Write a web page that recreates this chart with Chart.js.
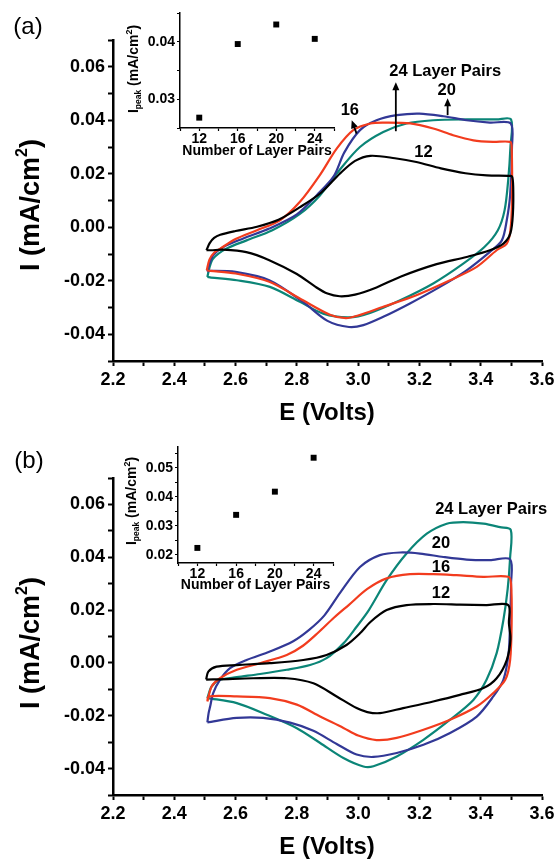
<!DOCTYPE html>
<html>
<head>
<meta charset="utf-8">
<script src="https://cdn.jsdelivr.net/npm/chart.js@4.4.1/dist/chart.umd.min.js"></script>
<style>
  body { margin: 0; background: #fff; }
  #fig { position: relative; width: 557px; height: 862px; overflow: hidden; }
  #fig canvas { position: absolute; left: 0; top: 0; }
</style>
</head>
<body>
<div id="fig">
  <canvas id="cvA" width="557" height="862"></canvas>
  <canvas id="cvB" width="557" height="862"></canvas>
  <canvas id="insA" width="557" height="862"></canvas>
  <canvas id="insB" width="557" height="862"></canvas>
</div>
<script>
/* CV loops, panel (a): potential (V) and current (mA/cm2), one closed scan each */
const eA12 = [2.505, 2.515, 2.53, 2.55, 2.60, 2.67, 2.74, 2.81, 2.88, 2.94, 2.99, 3.04, 3.12, 3.19, 3.27, 3.35, 3.42, 3.49, 3.502, 3.506, 3.505, 3.497, 3.475, 3.43, 3.354, 3.256, 3.14, 3.06, 2.99, 2.94, 2.90, 2.86, 2.80, 2.71, 2.635, 2.56, 2.52, 2.505];
const iA12 = [-0.0086, -0.0060, -0.0040, -0.0028, -0.0014, 0.0002, 0.0028, 0.0075, 0.0130, 0.0200, 0.0248, 0.0267, 0.0258, 0.0244, 0.0220, 0.0202, 0.0194, 0.0192, 0.0190, 0.0150, 0.0050, -0.0022, -0.0060, -0.0086, -0.0111, -0.0138, -0.0184, -0.0225, -0.0252, -0.0258, -0.0248, -0.0222, -0.0175, -0.0123, -0.0093, -0.0084, -0.0086, -0.0086];
const eA16 = [2.506, 2.515, 2.53, 2.55, 2.60, 2.67, 2.745, 2.81, 2.875, 2.93, 2.984, 3.04, 3.09, 3.17, 3.245, 3.31, 3.376, 3.44, 3.496, 3.501, 3.502, 3.497, 3.485, 3.452, 3.387, 3.30, 3.19, 3.08, 3.00, 2.96, 2.91, 2.82, 2.71, 2.60, 2.517, 2.506];
const iA16 = [-0.0161, -0.0120, -0.0095, -0.0080, -0.0044, -0.0011, 0.0026, 0.0095, 0.0195, 0.0294, 0.0363, 0.0388, 0.0391, 0.0388, 0.0369, 0.0344, 0.0325, 0.0319, 0.0319, 0.0300, 0.0100, -0.0011, -0.0061, -0.0086, -0.0148, -0.0198, -0.0254, -0.0298, -0.0330, -0.0340, -0.0328, -0.0273, -0.0204, -0.0173, -0.0163, -0.0161];
const eA20 = [2.508, 2.515, 2.527, 2.56, 2.625, 2.71, 2.80, 2.865, 2.92, 2.955, 3.006, 3.06, 3.126, 3.20, 3.278, 3.354, 3.43, 3.498, 3.502, 3.496, 3.485, 3.469, 3.43, 3.354, 3.267, 3.169, 3.082, 3.017, 2.97, 2.90, 2.82, 2.71, 2.60, 2.517, 2.508];
const iA20 = [-0.0165, -0.0135, -0.0105, -0.0074, -0.0042, -0.0005, 0.0048, 0.0120, 0.0190, 0.0280, 0.0363, 0.0400, 0.0419, 0.0425, 0.0415, 0.0400, 0.0391, 0.0388, 0.0300, 0.0120, 0.0026, -0.0049, -0.0092, -0.0161, -0.0223, -0.0285, -0.0335, -0.0366, -0.0373, -0.0350, -0.0279, -0.0198, -0.0167, -0.0163, -0.0165];
const eA24 = [2.508, 2.515, 2.527, 2.57, 2.636, 2.72, 2.81, 2.876, 2.94, 3.006, 3.082, 3.158, 3.245, 3.354, 3.452, 3.499, 3.497, 3.490, 3.478, 3.456, 3.412, 3.343, 3.245, 3.137, 3.039, 2.97, 2.886, 2.81, 2.712, 2.604, 2.52, 2.508];
const iA24 = [-0.0186, -0.0150, -0.0117, -0.0080, -0.0049, -0.0011, 0.0050, 0.0120, 0.0215, 0.0300, 0.0356, 0.0388, 0.0400, 0.0403, 0.0403, 0.0403, 0.0300, 0.0180, 0.0064, -0.0011, -0.0074, -0.0136, -0.0210, -0.0273, -0.0320, -0.0337, -0.0323, -0.0279, -0.0223, -0.0198, -0.0188, -0.0186];

/* CV loops, panel (b) */
const eB12 = [2.504, 2.511, 2.538, 2.604, 2.712, 2.821, 2.897, 2.962, 3.006, 3.04, 3.093, 3.158, 3.245, 3.332, 3.419, 3.49, 3.492, 3.497, 3.485, 3.452, 3.409, 3.332, 3.245, 3.147, 3.071, 3.03, 2.995, 2.93, 2.854, 2.767, 2.657, 2.549, 2.504];
const iB12 = [-0.0063, -0.0033, -0.0014, -0.0008, -0.0001, 0.0011, 0.0030, 0.0068, 0.0112, 0.0155, 0.0200, 0.0219, 0.0223, 0.0221, 0.0219, 0.0219, 0.0150, 0.0090, 0.0011, -0.0058, -0.0095, -0.0121, -0.0146, -0.0171, -0.0190, -0.0186, -0.0171, -0.0127, -0.0077, -0.0058, -0.0058, -0.0062, -0.0063];
const eB16 = [2.508, 2.522, 2.549, 2.604, 2.68, 2.767, 2.82, 2.87, 2.92, 2.97, 3.03, 3.093, 3.169, 3.245, 3.321, 3.409, 3.49, 3.499, 3.501, 3.496, 3.48, 3.441, 3.387, 3.30, 3.213, 3.126, 3.06, 3.00, 2.952, 2.876, 2.80, 2.712, 2.604, 2.512, 2.508];
const iB16 = [-0.0146, -0.0089, -0.0058, -0.0026, -0.0001, 0.0030, 0.0065, 0.0115, 0.0170, 0.0220, 0.0280, 0.0320, 0.0336, 0.0336, 0.0332, 0.0326, 0.0326, 0.0300, 0.0160, 0.0011, -0.0064, -0.0114, -0.0165, -0.0215, -0.0253, -0.0284, -0.0292, -0.0275, -0.0246, -0.0203, -0.0158, -0.0133, -0.0127, -0.0127, -0.0146];
const eB20 = [2.508, 2.512, 2.517, 2.527, 2.549, 2.582, 2.636, 2.712, 2.788, 2.84, 2.89, 2.941, 3.006, 3.071, 3.137, 3.202, 3.278, 3.354, 3.43, 3.496, 3.499, 3.496, 3.491, 3.474, 3.441, 3.387, 3.30, 3.213, 3.126, 3.05, 2.995, 2.93, 2.854, 2.778, 2.69, 2.604, 2.508];
const iB20 = [-0.0225, -0.0190, -0.0165, -0.0114, -0.0064, -0.0020, 0.0011, 0.0043, 0.0082, 0.0125, 0.0180, 0.0265, 0.0363, 0.0408, 0.0418, 0.0414, 0.0401, 0.0391, 0.0389, 0.0392, 0.0300, 0.0162, 0.0037, -0.0064, -0.0127, -0.0203, -0.0265, -0.0310, -0.0341, -0.0356, -0.0347, -0.0307, -0.0257, -0.0226, -0.0208, -0.0208, -0.0225];
const eB24 = [2.508, 2.522, 2.549, 2.604, 2.68, 2.767, 2.843, 2.897, 2.952, 2.995, 3.035, 3.093, 3.158, 3.224, 3.289, 3.343, 3.409, 3.463, 3.498, 3.496, 3.488, 3.474, 3.452, 3.419, 3.376, 3.30, 3.213, 3.126, 3.05, 3.017, 2.952, 2.876, 2.80, 2.702, 2.604, 2.508];
const iB24 = [-0.0133, -0.0089, -0.0064, -0.0054, -0.0042, -0.0026, -0.0008, 0.0018, 0.0074, 0.0137, 0.0200, 0.0313, 0.0414, 0.0489, 0.0527, 0.0533, 0.0527, 0.0514, 0.0504, 0.0400, 0.0280, 0.0162, 0.0037, -0.0064, -0.0140, -0.0215, -0.0291, -0.0354, -0.0391, -0.0392, -0.0360, -0.0303, -0.0247, -0.0196, -0.0152, -0.0133];

/* insets: peak current vs number of layer pairs */
const layerPairs = [12, 16, 20, 24];
const peakA = [0.0268, 0.0396, 0.0430, 0.0405];
const peakB = [0.0224, 0.0338, 0.0418, 0.0535];

/* ticks */
const eTicks = [2.2, 2.3, 2.4, 2.5, 2.6, 2.7, 2.8, 2.9, 3.0, 3.1, 3.2, 3.3, 3.4, 3.5, 3.6];
const eLabels = [2.2, 2.4, 2.6, 2.8, 3.0, 3.2, 3.4, 3.6];
const iTicks = [-0.05, -0.04, -0.03, -0.02, -0.01, 0, 0.01, 0.02, 0.03, 0.04, 0.05, 0.06, 0.07];
const iLabels = [-0.04, -0.02, 0, 0.02, 0.04, 0.06];
const nTicks = [10, 12, 14, 16, 18, 20, 22, 24, 26];
const nLabels = [12, 16, 20, 24];
const pTicksA = [0.025, 0.03, 0.035, 0.04, 0.045];
const pLabelsA = [0.03, 0.04];
const pTicksB = [0.02, 0.025, 0.03, 0.035, 0.04, 0.045, 0.05, 0.055];
const pLabelsB = [0.02, 0.03, 0.04, 0.05];

const FONT = "'Liberation Sans', Arial, Helvetica, sans-serif";
const W = 557, H = 862;
const BLACK = '#000000', RED = '#f23c1e', BLUE = '#323896', GREEN = '#0b8577';

const pts = (xs, ys) => xs.map((x, i) => ({ x: x, y: ys[i] }));

function loop(xs, ys, color) {
  return { data: pts(xs, ys), showLine: true, borderColor: color, borderWidth: 2.2,
    pointRadius: 0, tension: 0.3, fill: false };
}

function axis(pos, min, max, ticks, labels, fmt, o) {
  return {
    type: 'linear', position: pos, min: min, max: max,
    afterBuildTicks: s => { s.ticks = ticks.map(v => ({ value: v })); },
    afterFit: s => {
      if (pos === 'left') s.width = o.size; else s.height = o.size;
      s.paddingLeft = 0; s.paddingRight = 0; s.paddingTop = 0; s.paddingBottom = 0;
    },
    ticks: {
      autoSkip: false, maxRotation: 0, minRotation: 0, padding: o.pad, color: '#000',
      font: { family: FONT, size: o.font, weight: 'bold' },
      callback: v => labels.indexOf(v) >= 0 ? fmt(v) : ''
    },
    grid: { drawOnChartArea: false, drawTicks: true, tickLength: o.tick, tickWidth: o.tickW, color: '#000' },
    border: { display: true, color: '#000', width: o.axisW }
  };
}

// text with sub/superscripts, optionally rotated
function drawRich(ctx, segs, x, y, rot, base) {
  ctx.save();
  ctx.translate(x, y);
  ctx.rotate(rot);
  ctx.textBaseline = base;
  ctx.textAlign = 'left';
  let total = 0;
  segs.forEach(s => {
    ctx.font = (s.weight || 'bold') + ' ' + s.size + 'px ' + FONT;
    s.w = ctx.measureText(s.t).width;
    total += s.w;
  });
  let u = -total / 2;
  segs.forEach(s => {
    ctx.font = (s.weight || 'bold') + ' ' + s.size + 'px ' + FONT;
    ctx.fillText(s.t, u, s.dy || 0);
    u += s.w;
  });
  ctx.restore();
}

function drawNotes(c, items) {
  const ctx = c.ctx, sx = c.scales.x, sy = c.scales.y;
  ctx.save();
  ctx.fillStyle = '#000';
  ctx.strokeStyle = '#000';
  items.forEach(it => {
    if (it.arrow) {
      const x1 = sx.getPixelForValue(it.arrow[0]), y1 = sy.getPixelForValue(it.arrow[1]);
      const x2 = sx.getPixelForValue(it.arrow[2]), y2 = sy.getPixelForValue(it.arrow[3]);
      const a = Math.atan2(y2 - y1, x2 - x1), ca = Math.cos(a), sa = Math.sin(a);
      ctx.lineWidth = 1.8;
      ctx.beginPath();
      ctx.moveTo(x1, y1);
      ctx.lineTo(x2 - 5 * ca, y2 - 5 * sa);
      ctx.stroke();
      ctx.beginPath();
      ctx.moveTo(x2, y2);
      ctx.lineTo(x2 - 8 * ca + 3.5 * sa, y2 - 8 * sa - 3.5 * ca);
      ctx.lineTo(x2 - 8 * ca - 3.5 * sa, y2 - 8 * sa + 3.5 * ca);
      ctx.closePath();
      ctx.fill();
      return;
    }
    const x = it.at ? sx.getPixelForValue(it.at[0]) : it.px[0];
    const y = it.at ? sy.getPixelForValue(it.at[1]) : it.px[1];
    drawRich(ctx, it.segs, x, y, it.rot || 0, it.base || 'middle');
  });
  ctx.restore();
}

function makeChart(id, area, ySize, xSize, datasets, xAxis, yAxis, items) {
  return new Chart(document.getElementById(id), {
    type: 'scatter',
    data: { datasets: datasets },
    options: {
      responsive: false, animation: false, devicePixelRatio: 1, events: [],
      layout: { padding: { left: area.left - ySize, top: area.top, right: W - area.right, bottom: H - area.bottom - xSize } },
      plugins: { legend: { display: false }, tooltip: { enabled: false } },
      scales: { x: xAxis, y: yAxis }
    },
    plugins: [{ id: 'notes', afterDraw: c => drawNotes(c, items) }]
  });
}

const mainX = { size: 40, font: 18, tick: 5, tickW: 2, axisW: 2.5, pad: 3 };
const mainY = { size: 113, font: 18, tick: 5, tickW: 2, axisW: 2.5, pad: 3 };
const insX = { size: 30, font: 14, tick: 3, tickW: 1.2, axisW: 1.5, pad: 0 };
const insY = { size: 60, font: 14, tick: 3, tickW: 1.2, axisW: 1.5, pad: 2 };

const big = s => [{ t: s, size: 16.5 }];
const yTitle = [{ t: 'I (mA/cm', size: 27 }, { t: '2', size: 16, dy: -12 }, { t: ')', size: 27 }];
const peakTitle = [{ t: 'I', size: 14 }, { t: 'peak', size: 8.5, dy: 3 }, { t: ' (mA/cm', size: 14 },
  { t: '2', size: 9, dy: -6 }, { t: ')', size: 14 }];

// panel (a)
makeChart('cvA', { left: 113, right: 542, top: 40, bottom: 361 }, mainY.size, mainX.size,
  [loop(eA12, iA12, BLACK), loop(eA16, iA16, RED), loop(eA20, iA20, BLUE), loop(eA24, iA24, GREEN)],
  axis('bottom', 2.2, 3.6, eTicks, eLabels, v => v.toFixed(1), mainX),
  axis('left', -0.05, 0.07, iTicks, iLabels, v => v.toFixed(2), mainY),
  [
    { at: [3.284, 0.0583], segs: big('24 Layer Pairs') },
    { at: [3.289, 0.0512], segs: big('20') },
    { at: [2.973, 0.0437], segs: big('16') },
    { at: [3.213, 0.0278], segs: big('12') },
    { arrow: [3.123, 0.0359, 3.123, 0.0542] },
    { arrow: [3.292, 0.0419, 3.292, 0.0482] },
    { arrow: [2.995, 0.0350, 2.979, 0.0400] },
    { px: [327, 413], segs: [{ t: 'E (Volts)', size: 24 }] },
    { px: [38.5, 205], rot: -Math.PI / 2, base: 'alphabetic', segs: yTitle },
    { px: [28, 27], segs: [{ t: '(a)', size: 24, weight: 'normal' }] }
  ]);

// panel (b)
makeChart('cvB', { left: 113, right: 542, top: 478, bottom: 795 }, mainY.size, mainX.size,
  [loop(eB12, iB12, BLACK), loop(eB16, iB16, RED), loop(eB20, iB20, BLUE), loop(eB24, iB24, GREEN)],
  axis('bottom', 2.2, 3.6, eTicks, eLabels, v => v.toFixed(1), mainX),
  axis('left', -0.05, 0.07, iTicks, iLabels, v => v.toFixed(2), mainY),
  [
    { at: [3.434, 0.0581], segs: big('24 Layer Pairs') },
    { at: [3.270, 0.0452], segs: big('20') },
    { at: [3.270, 0.0363], segs: big('16') },
    { at: [3.270, 0.0263], segs: big('12') },
    { px: [327, 847], segs: [{ t: 'E (Volts)', size: 24 }] },
    { px: [38.5, 643], rot: -Math.PI / 2, base: 'alphabetic', segs: yTitle },
    { px: [29, 461], segs: [{ t: '(b)', size: 24, weight: 'normal' }] }
  ]);

function peakSet(values) {
  return { data: pts(layerPairs, values), showLine: false, pointStyle: 'rect', pointRadius: 4.2,
    backgroundColor: '#000', borderColor: '#000', borderWidth: 0 };
}

makeChart('insA', { left: 180, right: 334, top: 13, bottom: 128 }, insY.size, insX.size,
  [peakSet(peakA)],
  axis('bottom', 10, 26, nTicks, nLabels, v => String(v), insX),
  axis('left', 0.025, 0.045, pTicksA, pLabelsA, v => v.toFixed(2), insY),
  [
    { px: [257, 151], segs: [{ t: 'Number of Layer Pairs', size: 14 }] },
    { px: [138, 69], rot: -Math.PI / 2, base: 'alphabetic', segs: peakTitle }
  ]);

makeChart('insB', { left: 178, right: 333, top: 447, bottom: 563 }, insY.size, insX.size,
  [peakSet(peakB)],
  axis('bottom', 10, 26, nTicks, nLabels, v => String(v), insX),
  axis('left', 0.0172, 0.0572, pTicksB, pLabelsB, v => v.toFixed(2), insY),
  [
    { px: [255.5, 585], segs: [{ t: 'Number of Layer Pairs', size: 14 }] },
    { px: [136, 501], rot: -Math.PI / 2, base: 'alphabetic', segs: peakTitle }
  ]);
</script>
</body>
</html>
